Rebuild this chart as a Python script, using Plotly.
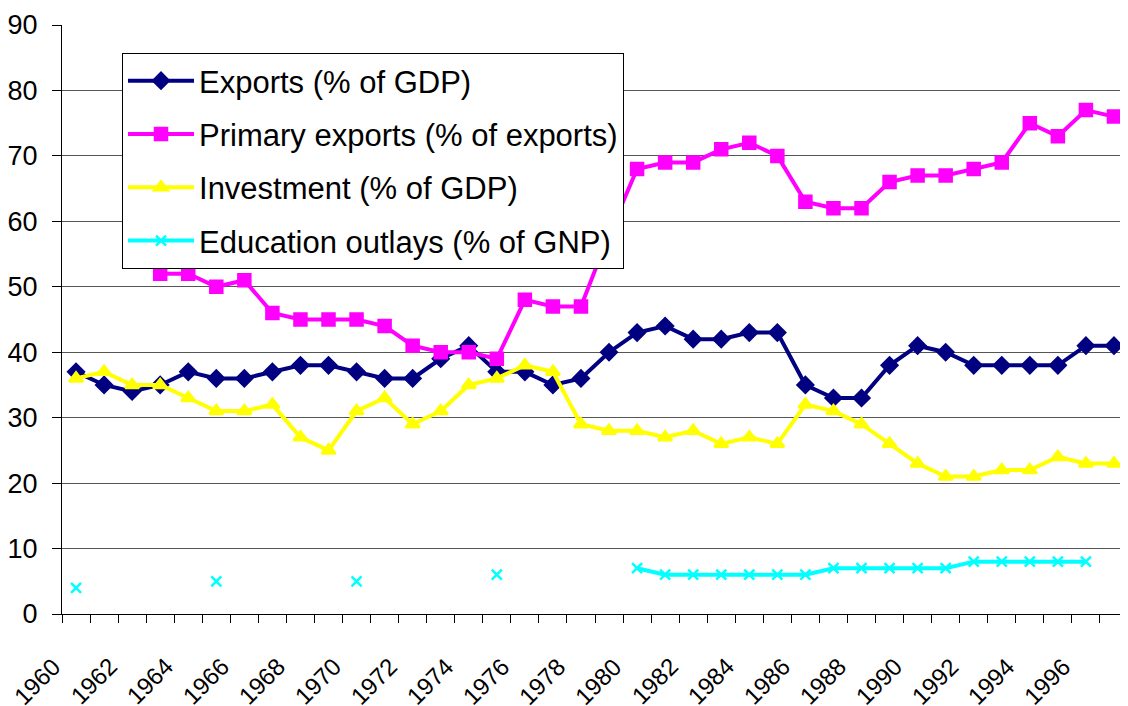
import plotly.graph_objects as go

# Datos (lectura aproximada del gráfico)
anios = list(range(1960, 1998))

exportaciones = [37, 35, 34, 35, 37, 36, 36, 37, 38, 38,
                 37, 36, 36, 39, 41, 37, 37, 35, 36, 40,
                 43, 44, 42, 42, 43, 43, 35, 33, 33, 38,
                 41, 40, 38, 38, 38, 38, 41, 41]

export_primarias = [None, None, None, 52, 52, 50, 51, 46, 45, 45,
                    45, 44, 41, 40, 40, 39, 48, 47, 47, 58,
                    68, 69, 69, 71, 72, 70, 63, 62, 62, 66,
                    67, 67, 68, 69, 75, 73, 77, 76]

inversion = [36, 37, 35, 35, 33, 31, 31, 32, 27, 25,
             31, 33, 29, 31, 35, 36, 38, 37, 29, 28,
             28, 27, 28, 26, 27, 26, 32, 31, 29, 26,
             23, 21, 21, 22, 22, 24, 23, 23]

educacion = [4, None, None, None, None, 5, None, None, None, None,
             5, None, None, None, None, 6, None, None, None, None,
             7, 6, 6, 6, 6, 6, 6, 7, 7, 7,
             7, 7, 8, 8, 8, 8, 8, None]

anios_etiqueta = list(range(1960, 1997, 2))
etiquetas_x = [str(a) for a in anios_etiqueta]

series = [
    ("Exports (% of GDP)", exportaciones, "#000080", "diamond", 12),
    ("Primary exports (% of exports)", export_primarias, "#FF00FF", "square", 12),
    ("Investment (% of GDP)", inversion, "#FFFF00", "triangle-up", 12),
    ("Education outlays (% of GNP)", educacion, "#00FFFF", "x-thin", 10),
]

fuente = "Arial, 'Liberation Sans', sans-serif"

fig = go.Figure()
for nombre, valores, color, simbolo, tam in series:
    fig.add_trace(go.Scatter(
        x=anios, y=valores, name=nombre, legendgroup=nombre,
        mode="lines+markers", connectgaps=False,
        line=dict(color=color, width=4),
        marker=dict(symbol=simbolo, size=tam, color=color,
                    line=dict(color=color, width=2.5)),
    ))

# etiquetas del eje x giradas, como anotaciones para controlar su posición
for anio, texto in zip(anios_etiqueta, etiquetas_x):
    fig.add_annotation(
        x=anio, y=0, xref="x", yref="paper", text=texto,
        showarrow=False, textangle=-45, font=dict(size=24),
        xanchor="right", yanchor="top", xshift=-8, yshift=-36,
    )

# la página deja 8 px de margen en el body, por eso el tamaño es algo menor
fig.update_layout(
    width=1120, height=698,
    margin=dict(l=54, r=0, t=17, b=92),
    plot_bgcolor="white", paper_bgcolor="white",
    font=dict(family=fuente, color="black"),
    showlegend=True,
    legend=dict(
        x=0.0563, y=0.9525, xanchor="left", yanchor="top",
        bgcolor="white", bordercolor="black", borderwidth=1,
        font=dict(size=31), tracegroupgap=10, itemwidth=66,
    ),
)

fig.update_xaxes(
    range=[1959.5, 1997.5], automargin=False,
    showticklabels=False, ticks="",
    showline=True, linecolor="black", linewidth=1,
    showgrid=False, zeroline=False,
    minor=dict(tickmode="linear", tick0=1959.5, dtick=1, ticks="outside",
               ticklen=8, tickcolor="black", tickwidth=1, showgrid=False),
)

fig.update_yaxes(
    range=[0, 90], dtick=10, automargin=False,
    tickfont=dict(size=27),
    ticks="outside", ticklen=9, tickcolor="black",
    ticklabelstandoff=9,
    showline=True, linecolor="black", linewidth=1,
    showgrid=True, gridcolor="#555555", gridwidth=1,
    zeroline=False,
)

fig.write_html("out.html")
